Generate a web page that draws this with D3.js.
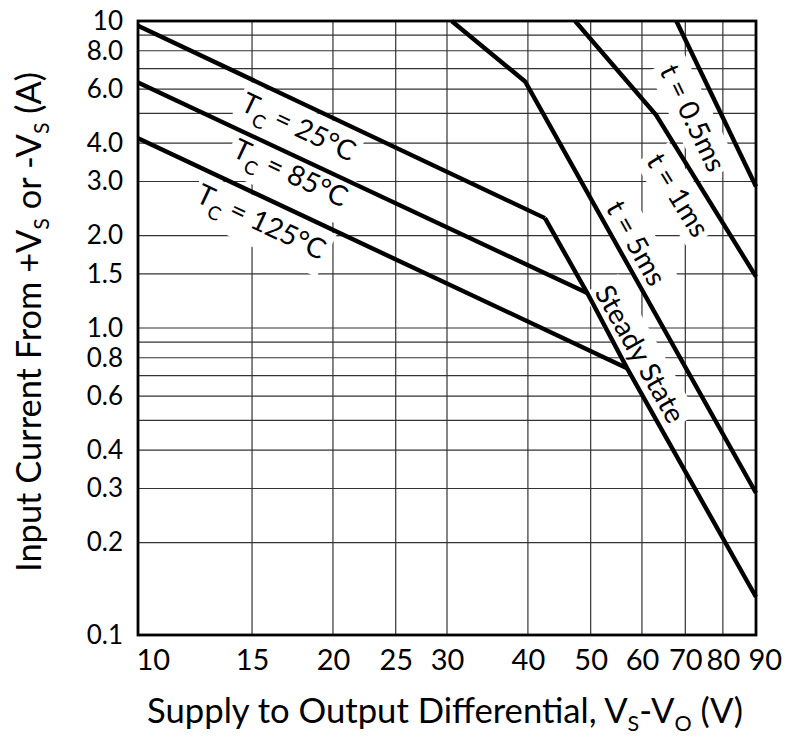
<!DOCTYPE html>
<html>
<head>
<meta charset="utf-8">
<script src="https://cdn.jsdelivr.net/npm/d3@7"></script>
<style>
  body { margin: 0; background: #fff; }
  svg text { font-family: Lato, "Open Sans", sans-serif; fill: #000; }
</style>
</head>
<body>
<div id="chart"></div>
<script>
// axis ticks and grid
const xGrid = [10, 15, 20, 25, 30, 40, 50, 60, 70, 80, 90];
const xTickLabels = [10, 15, 20, 25, 30, 40, 50, 60, 70, 80, 90];
const yGrid = [0.1, 0.2, 0.3, 0.4, 0.5, 0.6, 0.7, 0.8, 0.9, 1, 1.5, 2, 3, 4, 5, 6, 7, 8, 9, 10];
const yTickValues = [0.1, 0.2, 0.3, 0.4, 0.6, 0.8, 1, 1.5, 2, 3, 4, 6, 8, 10];
const yTickText = ["0.1", "0.2", "0.3", "0.4", "0.6", "0.8", "1.0", "1.5", "2.0", "3.0", "4.0", "6.0", "8.0", "10"];

// curves: [V, A]
const tc25 = [[10, 9.65], [42.5, 2.28]];
const tc85 = [[10, 6.3], [49.4, 1.3]];
const tc125 = [[10, 4.15], [56.9, 0.74]];
const steadyState = [[42.5, 2.28], [49.4, 1.3], [56.9, 0.74], [90, 0.133]];
const t5ms = [[30.5, 10], [39.6, 6.35], [90, 0.29]];
const t1ms = [[47.3, 10], [63.1, 4.94], [90, 1.47]];
const t05ms = [[67.8, 10], [90, 2.89]];

// labels: main text, subscript, rest, anchor point [V, A], curve it follows
const labels = [
  {pre: "T", sub: "C", post: " = 25°C", at: [17.7, 4.52], along: tc25},
  {pre: "T", sub: "C", post: " = 85°C", at: [17.2, 3.2], along: tc85},
  {pre: "T", sub: "C", post: " = 125°C", at: [15.5, 2.22], along: tc125},
  {pre: "t = 0.5ms", at: [71.9, 4.83], along: t05ms},
  {pre: "t = 1ms", at: [68.2, 2.71], along: t1ms.slice(1)},
  {pre: "t = 5ms", at: [58.8, 1.89], along: t5ms.slice(1)},
  {pre: "Steady State", at: [59.6, 0.823], along: steadyState.slice(2)}
];

const W = 786, H = 747;
const margin = {top: 21, right: 30, bottom: 112, left: 138};
const width = W - margin.left - margin.right;
const height = H - margin.top - margin.bottom;

const svg = d3.select("#chart").append("svg")
  .attr("width", W)
  .attr("height", H);

const chart = svg.append("g")
  .attr("transform", "translate(" + margin.left + "," + margin.top + ")");

const x = d3.scaleLog().domain([10, 90]).range([0, width]);
const y = d3.scaleLog().domain([0.1, 10]).range([height, 0]);

// grid
chart.append("g").selectAll("line")
  .data(xGrid)
  .join("line")
  .attr("x1", d => x(d)).attr("x2", d => x(d))
  .attr("y1", 0).attr("y2", height)
  .attr("stroke", "#333").attr("stroke-width", 1.2);

chart.append("g").selectAll("line")
  .data(yGrid)
  .join("line")
  .attr("y1", d => y(d)).attr("y2", d => y(d))
  .attr("x1", 0).attr("x2", width)
  .attr("stroke", "#333").attr("stroke-width", 1.2);

// axes (text only, frame drawn separately)
const xaxis = d3.axisBottom(x).tickValues(xTickLabels).tickFormat(d3.format("d")).tickSize(0).tickPadding(14);
const gx = chart.append("g")
  .attr("transform", "translate(0," + height + ")")
  .call(xaxis);
gx.select(".domain").remove();
gx.selectAll("text").attr("font-size", 29);
// end labels sit inside/outside the frame like the original
gx.selectAll("text").filter(d => d === 10).attr("text-anchor", "start").attr("x", -2);
gx.selectAll("text").filter(d => d === 90).attr("text-anchor", "start").attr("x", -8);

const yaxis = d3.axisLeft(y).tickValues(yTickValues).tickFormat((d, i) => yTickText[i]).tickSize(0).tickPadding(15);
const gy = chart.append("g").call(yaxis);
gy.select(".domain").remove();
gy.selectAll("text").attr("font-size", 26);

// labels with white backing boxes
const line = d3.line().x(d => x(d[0])).y(d => y(d[1]));

const lab = chart.append("g").selectAll("g")
  .data(labels)
  .join("g")
  .attr("transform", d => {
    const a = d.along[0], b = d.along[d.along.length - 1];
    const ang = Math.atan2(y(b[1]) - y(a[1]), x(b[0]) - x(a[0])) * 180 / Math.PI;
    return "translate(" + x(d.at[0]) + "," + y(d.at[1]) + ") rotate(" + ang + ")";
  });

const txt = lab.append("text")
  .attr("font-size", 28)
  .attr("text-anchor", "middle")
  .attr("dy", "0.35em");
txt.append("tspan").text(d => d.pre);
txt.filter(d => d.sub).append("tspan").text(d => d.sub)
  .attr("font-size", 19).attr("dy", 9);
txt.filter(d => d.sub).append("tspan").text(d => d.post).attr("dy", -9);

lab.each(function() {
  const g = d3.select(this);
  const bb = g.select("text").node().getBBox();
  g.insert("rect", "text")
    .attr("x", bb.x - 4).attr("y", bb.y - 2)
    .attr("width", bb.width + 8).attr("height", bb.height + 6)
    .attr("fill", "#fff");
});

// curves
const curves = [tc25, tc85, tc125, steadyState, t5ms, t1ms, t05ms];
chart.append("g").selectAll("path")
  .data(curves)
  .join("path")
  .attr("d", line)
  .attr("fill", "none")
  .attr("stroke", "#000")
  .attr("stroke-width", 4.4)
  .attr("stroke-linejoin", "miter");

// frame
chart.append("rect")
  .attr("width", width).attr("height", height)
  .attr("fill", "none").attr("stroke", "#000").attr("stroke-width", 2.8);

// axis titles, font fitted to the original's width
function fitWidth(sel, target) {
  const w = sel.node().getComputedTextLength();
  sel.attr("font-size", 30 * target / w);
}

const xt = svg.append("text")
  .attr("x", 445)
  .attr("y", 723)
  .attr("text-anchor", "middle")
  .attr("font-size", 30);
xt.append("tspan").text("Supply to Output Differential, V");
xt.append("tspan").text("S").attr("font-size", "0.62em").attr("dy", 8);
xt.append("tspan").text("-V").attr("dy", -8);
xt.append("tspan").text("O").attr("font-size", "0.62em").attr("dy", 8);
xt.append("tspan").text(" (V)").attr("dy", -8);
fitWidth(xt, 596);

const yt = svg.append("text")
  .attr("transform", "translate(41,322) rotate(-90)")
  .attr("text-anchor", "middle")
  .attr("font-size", 30);
yt.append("tspan").text("Input Current From +V");
yt.append("tspan").text("S").attr("font-size", "0.62em").attr("dy", 8);
yt.append("tspan").text(" or -V").attr("dy", -8);
yt.append("tspan").text("S").attr("font-size", "0.62em").attr("dy", 8);
yt.append("tspan").text(" (A)").attr("dy", -8);
fitWidth(yt, 500);
</script>
</body>
</html>
